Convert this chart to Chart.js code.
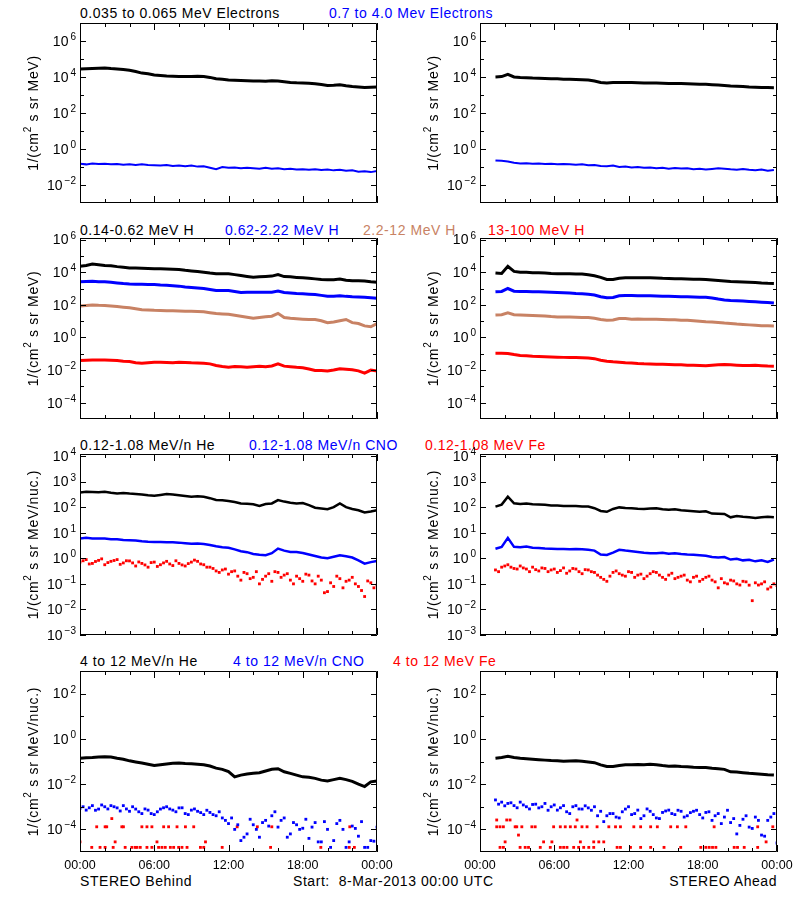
<!DOCTYPE html>
<html><head><meta charset="utf-8">
<script src="https://cdn.jsdelivr.net/npm/chart.js@4/dist/chart.umd.min.js"></script>
<style>
body{margin:0;background:#fff;width:800px;height:900px;position:relative;overflow:hidden;font-family:"Liberation Sans",Arial,sans-serif;}
canvas{position:absolute;}
.t{position:absolute;font-size:14px;line-height:14px;white-space:pre;letter-spacing:0.55px;}
</style></head><body>
<div class="t" style="left:80px;top:6px;color:#000">0.035 to 0.065 MeV Electrons</div>
<div class="t" style="left:329px;top:6px;color:#0000ff">0.7 to 4.0 Mev Electrons</div>
<div class="t" style="left:80px;top:223px;color:#000">0.14-0.62 MeV H</div>
<div class="t" style="left:225px;top:223px;color:#0000ff">0.62-2.22 MeV H</div>
<div class="t" style="left:363px;top:223px;color:rgb(200,130,100)">2.2-12 MeV H</div>
<div class="t" style="left:488px;top:223px;color:#ff0000">13-100 MeV H</div>
<div class="t" style="left:80px;top:438px;color:#000">0.12-1.08 MeV/n He</div>
<div class="t" style="left:249px;top:438px;color:#0000ff">0.12-1.08 MeV/n CNO</div>
<div class="t" style="left:425px;top:438px;color:#ff0000">0.12-1.08 MeV Fe</div>
<div class="t" style="left:80px;top:654px;color:#000">4 to 12 MeV/n He</div>
<div class="t" style="left:233px;top:654px;color:#0000ff">4 to 12 MeV/n CNO</div>
<div class="t" style="left:393px;top:654px;color:#ff0000">4 to 12 MeV Fe</div>
<div class="t" style="left:80px;top:874px;color:#000">STEREO Behind</div>
<div class="t" style="left:293px;top:874px;color:#000">Start:  8-Mar-2013 00:00 UTC</div>
<div class="t" style="right:23px;top:874px;color:#000">STEREO Ahead</div>
<script>
// ---- time bases (hours after 8-Mar-2013 00:00 UTC) ----
const TIME_B = [0,0.5,1,1.5,2,2.5,3,3.5,4,4.5,5,5.5,6,6.5,7,7.5,8,8.5,9,9.5,10,10.5,11,11.5,12,12.5,13,13.5,14,14.5,15,15.5,16,16.5,17,17.5,18,18.5,19,19.5,20,20.5,21,21.5,22,22.5,23,23.5,24];
const TIME_B2 = [0.25,0.75,1.25,1.75,2.25,2.75,3.25,3.75,4.25,4.75,5.25,5.75,6.25,6.75,7.25,7.75,8.25,8.75,9.25,9.75,10.25,10.75,11.25,11.75,12.25,12.75,13.25,13.75,14.25,14.75,15.25,15.75,16.25,16.75,17.25,17.75,18.25,18.75,19.25,19.75,20.25,20.75,21.25,21.75,22.25,22.75,23.25,23.75];
const TIME_A = [1.25,1.75,2.25,2.75,3.25,3.75,4.25,4.75,5.25,5.75,6.25,6.75,7.25,7.75,8.25,8.75,9.25,9.75,10.25,10.75,11.25,11.75,12.25,12.75,13.25,13.75,14.25,14.75,15.25,15.75,16.25,16.75,17.25,17.75,18.25,18.75,19.25,19.75,20.25,20.75,21.25,21.75,22.25,22.75,23.25,23.75];
const TIME_A2 = [1.5,2,2.5,3,3.5,4,4.5,5,5.5,6,6.5,7,7.5,8,8.5,9,9.5,10,10.5,11,11.5,12,12.5,13,13.5,14,14.5,15,15.5,16,16.5,17,17.5,18,18.5,19,19.5,20,20.5,21,21.5,22,22.5,23,23.5,24];

// ---- row 1: electrons ----
const E_LO_B = [2.8e4,2.9e4,3.0e4,3.1e4,3.2e4,2.95e4,2.8e4,2.6e4,2.35e4,2.0e4,1.65e4,1.5e4,1.3e4,1.2e4,1.12e4,1.1e4,1.07e4,1.07e4,1.07e4,1.1e4,1.07e4,9.5e3,8.1e3,7.4e3,6.8e3,6.5e3,6.3e3,6.2e3,6.0e3,6.0e3,5.9e3,6.2e3,6.0e3,5.5e3,5.0e3,4.8e3,4.7e3,4.5e3,4.2e3,3.8e3,3.4e3,3.5e3,3.7e3,3.3e3,3.0e3,2.8e3,2.6e3,2.7e3,2.75e3];
const E_HI_B = [0.15,0.14,0.155,0.145,0.15,0.14,0.145,0.135,0.14,0.13,0.14,0.13,0.125,0.12,0.13,0.115,0.12,0.11,0.12,0.105,0.11,0.09,0.075,0.1,0.09,0.095,0.085,0.09,0.085,0.08,0.09,0.08,0.085,0.075,0.08,0.072,0.075,0.07,0.075,0.068,0.072,0.065,0.07,0.062,0.066,0.055,0.058,0.052,0.06];
const E_LO_A = [1.0e4,1.05e4,1.4e4,1.0e4,9.3e3,9.1e3,8.7e3,8.5e3,8.3e3,8.1e3,7.9e3,7.6e3,7.4e3,7.2e3,7.1e3,6.8e3,6.0e3,4.9e3,4.7e3,4.9e3,5.0e3,5.0e3,4.9e3,4.8e3,4.7e3,4.7e3,4.6e3,4.5e3,4.4e3,4.3e3,4.3e3,4.2e3,4.1e3,4.0e3,3.9e3,3.7e3,3.55e3,3.4e3,3.2e3,3.1e3,2.95e3,2.75e3,2.7e3,2.6e3,2.6e3,2.55e3];
const E_HI_A = [0.23,0.22,0.2,0.17,0.155,0.16,0.15,0.155,0.145,0.15,0.14,0.145,0.14,0.135,0.14,0.125,0.13,0.115,0.11,0.12,0.1,0.105,0.095,0.1,0.09,0.095,0.085,0.09,0.08,0.088,0.082,0.085,0.075,0.08,0.072,0.078,0.085,0.08,0.074,0.07,0.078,0.07,0.066,0.072,0.062,0.068];

// ---- row 2: protons ----
const H1_B = [2.3e4,2.6e4,3.2e4,2.9e4,2.6e4,2.5e4,2.2e4,2.0e4,1.8e4,1.8e4,1.75e4,1.7e4,1.65e4,1.6e4,1.55e4,1.5e4,1.45e4,1.3e4,1.2e4,1.1e4,1.0e4,8.9e3,8.1e3,7.9e3,7.9e3,7.1e3,6.2e3,5.5e3,4.9e3,5.2e3,5.5e3,5.75e3,7.1e3,5.4e3,5.2e3,4.8e3,4.5e3,4.2e3,3.9e3,3.6e3,3.4e3,3.5e3,3.8e3,3.2e3,2.95e3,2.95e3,2.9e3,2.6e3,2.45e3];
const H2_B = [2.6e3,2.7e3,2.8e3,2.6e3,2.6e3,2.4e3,2.2e3,2.0e3,1.9e3,1.85e3,1.8e3,1.78e3,1.75e3,1.65e3,1.6e3,1.5e3,1.4e3,1.25e3,1.15e3,1.07e3,1.0e3,870,760,760,760,660,575,590,600,600,600,600,690,570,525,490,470,450,425,380,340,340,365,330,310,300,295,275,255];
const H3_B = [85,91,98,93,91,85,79,72,66,58,50,48,46,45,44,43,42,41,40,39,38,33,29,27.5,26,23,20,17.4,15,16.6,18.6,20,30,16.6,15,14,13.2,12.6,12.6,10.5,8.1,8.9,10.5,12.6,8.1,7.1,5.1,4.5,7.1];
const H4_B = [0.038,0.04,0.042,0.042,0.042,0.04,0.038,0.035,0.033,0.028,0.026,0.028,0.03,0.03,0.0295,0.028,0.03,0.0295,0.028,0.0275,0.026,0.024,0.019,0.0166,0.015,0.0166,0.0162,0.015,0.0162,0.017,0.0158,0.0178,0.024,0.0174,0.0162,0.0148,0.0138,0.0117,0.0095,0.0093,0.0087,0.01,0.012,0.0112,0.0105,0.0089,0.0065,0.01,0.0089];
const H1_A = [8.9e3,8.3e3,2.3e4,1.12e4,1.0e4,9.8e3,9.3e3,9.3e3,8.9e3,8.3e3,7.9e3,8.1e3,7.9e3,7.8e3,7.8e3,6.9e3,6.0e3,4.8e3,3.6e3,3.55e3,4.2e3,4.5e3,4.6e3,4.6e3,4.5e3,4.5e3,4.4e3,4.2e3,4.1e3,4.0e3,3.9e3,3.8e3,3.7e3,3.7e3,3.55e3,3.3e3,3.1e3,2.9e3,2.7e3,2.6e3,2.5e3,2.45e3,2.35e3,2.2e3,2.1e3,2.05e3];
const H2_A = [630,660,1000,690,660,645,630,630,615,590,575,550,525,490,470,445,400,315,270,280,355,370,370,365,365,355,345,340,330,325,315,310,300,295,290,265,225,200,185,178,170,162,155,145,138,129];
const H3_A = [24,25,32,25,24,23,22.4,21.4,20.4,19,18.2,18.2,17.8,17.4,17,16.6,15,12.6,11.5,11.7,14.5,14.5,13.2,13.5,13.2,13.2,12.9,12.6,12.3,12,11.5,11.2,10.7,10,9.3,8.9,8.3,7.6,7.1,6.6,6.3,5.9,5.5,5.2,5.2,5.1];
const H4_A = [0.107,0.107,0.105,0.089,0.079,0.076,0.071,0.068,0.065,0.063,0.062,0.06,0.059,0.058,0.056,0.055,0.05,0.04,0.035,0.032,0.03,0.028,0.0275,0.025,0.024,0.0235,0.023,0.0224,0.022,0.0214,0.021,0.02,0.0195,0.019,0.0186,0.02,0.021,0.022,0.021,0.02,0.019,0.019,0.0195,0.0186,0.0178,0.0174];

// ---- row 3: 0.12-1.08 MeV/n heavy ions ----
const HE_B = [370,400,390,380,400,365,345,355,340,330,315,295,280,300,325,310,295,275,255,265,255,225,190,185,175,160,140,135,130,112,132,140,190,165,148,140,145,120,95,89,83,100,140,100,85,76,62,68,76];
const CNO_B = [5.9,6.3,6.0,5.9,5.9,5.6,5.5,5.2,5.1,5.0,4.6,4.4,4.3,4.3,4.2,4.2,4.1,3.9,3.7,3.8,3.6,3.3,2.95,2.7,2.6,2.24,1.9,1.74,1.48,1.38,1.32,1.58,2.4,2.0,1.78,1.78,1.62,1.41,1.23,1.07,1.0,1.15,1.32,1.2,1.07,0.83,0.62,0.71,0.79];
const FE_B = [0.71,0.89,0.63,0.83,0.56,0.76,0.89,0.66,0.79,0.5,0.63,0.45,0.71,0.56,0.76,0.52,0.63,0.5,0.71,0.76,0.56,0.45,0.32,0.35,0.24,0.32,0.14,0.25,0.18,0.1,0.2,0.126,0.28,0.22,0.14,0.2,0.126,0.22,0.1,0.14,0.05,0.079,0.16,0.126,0.18,0.079,0.032,0.11,0.089];
const FE_B2 = [0.8,0.6,0.75,0.95,0.68,0.82,0.58,0.8,0.66,0.72,0.55,0.68,0.48,0.66,0.6,0.8,0.55,0.62,0.85,0.6,0.45,0.4,0.28,0.38,0.3,0.2,0.28,0.16,0.3,0.15,0.25,0.3,0.18,0.25,0.1,0.16,0.24,0.13,0.2,0.045,0.11,0.2,0.07,0.14,0.1,0.055,0.13,0.07];
const HE_A = [105,126,257,141,132,138,129,126,123,117,115,112,110,110,107,105,91,71,66,85,98,93,91,87,85,89,91,83,79,83,76,72,69,66,69,56,55,54,40,45,42,40,38,40,42,40];
const CNO_A = [2.35,2.8,6.3,2.8,2.7,2.9,2.6,2.5,2.4,2.35,2.3,2.3,2.24,2.3,2.24,2.14,2.0,1.41,1.35,1.66,2.14,2.0,1.9,1.78,1.66,1.58,1.58,1.66,1.51,1.58,1.48,1.41,1.38,1.32,1.26,1.12,1.07,1.12,0.89,0.95,0.83,0.87,0.76,0.83,0.72,0.89];
const FE_A = [0.35,0.45,0.56,0.4,0.5,0.38,0.45,0.32,0.4,0.35,0.28,0.42,0.32,0.38,0.25,0.35,0.28,0.18,0.126,0.28,0.25,0.2,0.28,0.22,0.16,0.25,0.28,0.18,0.22,0.16,0.2,0.14,0.18,0.126,0.18,0.14,0.07,0.11,0.14,0.1,0.126,0.089,0.11,0.1,0.063,0.1];
const FE_A2 = [0.3,0.5,0.45,0.38,0.42,0.3,0.36,0.42,0.3,0.38,0.33,0.26,0.4,0.3,0.36,0.3,0.22,0.15,0.2,0.32,0.22,0.3,0.18,0.24,0.2,0.3,0.22,0.15,0.26,0.18,0.22,0.12,0.2,0.15,0.2,0.12,0.16,0.1,0.13,0.09,0.12,0.022,0.09,0.12,0.075,0.085];

// ---- row 4: 4-12 MeV/n heavy ions ----
const HE4_B = [0.14,0.148,0.15,0.158,0.162,0.158,0.14,0.126,0.107,0.095,0.085,0.076,0.066,0.072,0.078,0.083,0.085,0.081,0.079,0.076,0.072,0.063,0.051,0.045,0.036,0.021,0.025,0.028,0.03,0.032,0.038,0.045,0.048,0.035,0.03,0.025,0.021,0.02,0.018,0.015,0.0138,0.0158,0.018,0.0158,0.0132,0.01,0.0078,0.0126,0.0138];
const CNO4_B = [8.5e-4,7.1e-4,1.12e-3,7.9e-4,1.0e-3,1.12e-3,8.9e-4,1.12e-3,6.3e-4,7.9e-4,5.0e-4,7.1e-4,4.5e-4,7.9e-4,1.0e-3,7.1e-4,8.9e-4,5.0e-4,7.1e-4,6.3e-4,4.5e-4,5.6e-4,4.0e-4,3.2e-4,1.8e-4,1.0e-4,3.2e-5,6.3e-5,1.6e-4,4.5e-5,2.5e-4,4.0e-4,1.26e-4,3.2e-4,6.3e-5,1.6e-4,1.12e-4,4.0e-5,2.0e-4,2.8e-5,1.0e-4,3.2e-5,2.5e-4,1.6e-5,1.4e-4,5.0e-5,1.6e-5,3.2e-5,1.26e-4];
const CNO4_B2 = [1.0e-3,9e-4,7e-4,1.2e-3,8e-4,1.0e-3,6.5e-4,8e-4,1.0e-3,6e-4,8e-4,5e-4,6e-4,9e-4,8e-4,6e-4,9e-4,4.5e-4,8e-4,5.5e-4,7e-4,4.5e-4,6e-4,2.5e-4,3.2e-4,1.6e-4,4.5e-5,2.8e-4,1.0e-4,2.0e-4,1.4e-4,6e-4,2.5e-4,4.5e-5,2.0e-4,1.0e-4,2.8e-4,1.26e-4,2.8e-5,2.2e-4,1.6e-5,1.8e-4,1.0e-4,2.8e-5,1.1e-4,2.2e-4,1.6e-5,3.0e-5];
const FE4_B_T = [1.35,2.03,2.16,3.38,3.51,5.0,5.41,5.81,6.76,7.16,7.84,8.52,9.19,12.7,14.33,15.5,21.8,2.57,0.95,1.62,2.03,2.68,3.65,4.19,4.46,4.6,4.87,5.41,5.81,6.35,6.62,6.89,7.3,7.57,7.97,8.24,8.65,9.73,10.0,11.49,15.4,19.46,21.76,22.17,0.0,2.84,6.22,10.14];
const FE4_B_V = [1.3e-4,1.3e-4,1.3e-4,1.3e-4,1.3e-4,1.3e-4,1.3e-4,1.3e-4,1.3e-4,1.3e-4,1.3e-4,1.3e-4,1.3e-4,1.3e-4,1.3e-4,1.3e-4,1.3e-4,3.0e-4,1.6e-5,1.6e-5,1.6e-5,1.6e-5,1.6e-5,1.6e-5,1.6e-5,1.6e-5,1.6e-5,1.6e-5,1.6e-5,1.6e-5,1.6e-5,1.6e-5,1.6e-5,1.6e-5,1.6e-5,1.6e-5,1.6e-5,1.6e-5,1.6e-5,1.6e-5,1.6e-5,1.6e-5,1.6e-5,1.6e-5,2.8e-5,2.8e-5,2.8e-5,2.8e-5];
const HE4_A = [0.14,0.15,0.17,0.15,0.138,0.132,0.126,0.12,0.115,0.11,0.107,0.102,0.105,0.107,0.102,0.095,0.089,0.071,0.06,0.06,0.066,0.072,0.072,0.074,0.072,0.076,0.072,0.066,0.062,0.063,0.06,0.059,0.056,0.054,0.054,0.05,0.048,0.045,0.035,0.034,0.032,0.03,0.029,0.0275,0.026,0.025];
const CNO4_A = [2.0e-3,1.6e-3,1.4e-3,1.12e-3,1.6e-3,1.0e-3,1.26e-3,8.9e-4,1.4e-3,1.0e-3,7.1e-4,1.12e-3,5.0e-4,1.12e-3,7.9e-4,8.9e-4,1.0e-3,6.3e-4,4.0e-4,5.0e-4,3.2e-4,7.9e-4,4.5e-4,7.1e-4,4.0e-4,6.3e-4,3.2e-4,5.6e-4,7.1e-4,4.5e-4,6.3e-4,4.0e-4,6.3e-4,4.5e-4,5.6e-4,2.5e-4,5.0e-4,3.5e-4,2.0e-4,6.3e-5,2.8e-4,1.26e-4,3.5e-4,5.6e-5,2.5e-4,5.0e-4];
const CNO4_A2 = [1.3e-3,1.1e-3,1.5e-3,9e-4,1.2e-3,8e-4,1.3e-3,1.0e-3,7e-4,1.2e-3,9e-4,6e-4,1.0e-3,8e-4,1.1e-3,7e-4,4e-4,2.2e-4,5e-4,3.5e-4,6e-4,1.0e-3,5e-4,3e-4,8e-4,4.5e-4,3e-4,6.5e-4,5e-4,7e-4,3.5e-4,5.5e-4,7e-4,3.2e-4,6e-4,4e-4,1.8e-4,7e-4,3e-4,1.5e-4,4e-4,1.1e-4,2.5e-4,5e-5,3.5e-4,2.5e-5];
const FE4_A_T = [1.35,1.62,1.89,2.84,2.97,3.38,4.19,4.46,5.95,6.49,6.89,7.3,7.7,8.24,8.65,9.46,10.41,10.95,11.35,12.43,12.98,13.79,14.33,15.41,15.95,16.63,18.92,22.44,23.66,1.35,2.16,2.43,7.84,1.62,1.89,3.24,3.65,3.92,4.87,5.68,6.49,6.76,7.03,7.57,7.97,8.38,8.79,9.19,11.08,11.35,12.16,12.98,13.79,14.87,16.22,17.84,18.25,18.52,18.79,19.06,20.54,20.81,21.35,22.44,2.03,5.14,5.81,8.11,9.19,9.6,10.0,23.12,3.11];
const FE4_A_V = [1.3e-4,1.3e-4,1.3e-4,1.3e-4,1.3e-4,1.3e-4,1.3e-4,1.3e-4,1.3e-4,1.3e-4,1.3e-4,1.3e-4,1.3e-4,1.3e-4,1.3e-4,1.3e-4,1.3e-4,1.3e-4,1.3e-4,1.3e-4,1.3e-4,1.3e-4,1.3e-4,1.3e-4,1.3e-4,1.3e-4,1.3e-4,1.3e-4,1.3e-4,2.6e-4,2.6e-4,2.6e-4,2.6e-4,1.6e-5,1.6e-5,1.6e-5,1.6e-5,1.6e-5,1.6e-5,1.6e-5,1.6e-5,1.6e-5,1.6e-5,1.6e-5,1.6e-5,1.6e-5,1.6e-5,1.6e-5,1.6e-5,1.6e-5,1.6e-5,1.6e-5,1.6e-5,1.6e-5,1.6e-5,1.6e-5,1.6e-5,1.6e-5,1.6e-5,1.6e-5,1.6e-5,1.6e-5,1.6e-5,1.6e-5,2.8e-5,2.8e-5,2.8e-5,2.8e-5,2.8e-5,2.8e-5,2.8e-5,2.8e-5,5.6e-5];

// ---- axis ticks / labels ----
const X_TICKS = [0,2,4,6,8,10,12,14,16,18,20,22,24];
const X_LABEL_HOURS = [0,6,12,18,24];
const X_LABELS = ['00:00','06:00','12:00','18:00','00:00'];
const Y1_MAJOR = [-2,0,2,4,6], Y1_MINOR = [-1,1,3,5];
const Y2_MAJOR = [-4,-2,0,2,4,6], Y2_MINOR = [-3,-1,1,3,5];
const Y3_MAJOR = [-3,-2,-1,0,1,2,3,4], Y3_MINOR = [];
const Y4_MAJOR = [-4,-2,0,2], Y4_MINOR = [-3,-1,1];
const YTITLE_A = ['1/(cm', '2', ' s sr MeV)'];
const YTITLE_B = ['1/(cm', '2', ' s sr MeV/nuc.)'];

const BLACK='#000000', BLUE='#0000ff', TAN='rgb(200,130,100)', RED='#ff0000';

const ROWS = [
  {top:23, bottom:203, min:1e-3, max:1e7, major:Y1_MAJOR, minor:Y1_MINOR, title:YTITLE_A},
  {top:238, bottom:419, min:1e-5, max:1.25e6, major:Y2_MAJOR, minor:Y2_MINOR, title:YTITLE_A},
  {top:454, bottom:635, min:1e-3, max:1.2e4, major:Y3_MAJOR, minor:Y3_MINOR, title:YTITLE_B},
  {top:671, bottom:852, min:1e-5, max:1e3, major:Y4_MAJOR, minor:Y4_MINOR, title:YTITLE_B}
];

const PANELS = [
  {row:0, side:0, series:[{t:TIME_B,v:E_LO_B,c:BLACK,w:3},{t:TIME_B,v:E_HI_B,c:BLUE,w:2}]},
  {row:0, side:1, series:[{t:TIME_A,v:E_LO_A,c:BLACK,w:3},{t:TIME_A,v:E_HI_A,c:BLUE,w:2}]},
  {row:1, side:0, series:[{t:TIME_B,v:H1_B,c:BLACK,w:3},{t:TIME_B,v:H2_B,c:BLUE,w:3},{t:TIME_B,v:H3_B,c:TAN,w:3},{t:TIME_B,v:H4_B,c:RED,w:3}]},
  {row:1, side:1, series:[{t:TIME_A,v:H1_A,c:BLACK,w:3},{t:TIME_A,v:H2_A,c:BLUE,w:3},{t:TIME_A,v:H3_A,c:TAN,w:3},{t:TIME_A,v:H4_A,c:RED,w:3}]},
  {row:2, side:0, series:[{t:TIME_B,v:HE_B,c:BLACK,w:2.5},{t:TIME_B,v:CNO_B,c:BLUE,w:2.5},{t:TIME_B,v:FE_B,c:RED,dots:true},{t:TIME_B2,v:FE_B2,c:RED,dots:true}]},
  {row:2, side:1, series:[{t:TIME_A,v:HE_A,c:BLACK,w:2.5},{t:TIME_A,v:CNO_A,c:BLUE,w:2.5},{t:TIME_A,v:FE_A,c:RED,dots:true},{t:TIME_A2,v:FE_A2,c:RED,dots:true}]},
  {row:3, side:0, series:[{t:TIME_B,v:HE4_B,c:BLACK,w:3},{t:TIME_B,v:CNO4_B,c:BLUE,dots:true},{t:TIME_B2,v:CNO4_B2,c:BLUE,dots:true},{t:FE4_B_T,v:FE4_B_V,c:RED,dots:true}]},
  {row:3, side:1, series:[{t:TIME_A,v:HE4_A,c:BLACK,w:3},{t:TIME_A,v:CNO4_A,c:BLUE,dots:true},{t:TIME_A2,v:CNO4_A2,c:BLUE,dots:true},{t:FE4_A_T,v:FE4_A_V,c:RED,dots:true}]}
];

const idlAxes = {
  id:'idlAxes',
  afterDatasetsDraw(chart){
    const o = chart.options.plugins.idlAxes;
    const ctx = chart.ctx, a = chart.chartArea, xs = chart.scales.x, ys = chart.scales.y;
    const L = Math.round(a.left), R = Math.round(a.right), T = Math.round(a.top), B = Math.round(a.bottom);
    ctx.save();
    ctx.strokeStyle = '#000'; ctx.lineWidth = 1;
    ctx.beginPath();
    ctx.rect(L+0.5, T+0.5, R-L-1, B-T-1);
    X_TICKS.forEach(h => {
      const px = Math.round(xs.getPixelForValue(h)) + 0.5;
      const len = (h % 6 === 0) ? 7 : 4;
      ctx.moveTo(px, B); ctx.lineTo(px, B - len);
      ctx.moveTo(px, T); ctx.lineTo(px, T + len);
    });
    const yt = (e, len) => {
      const py = Math.round(ys.getPixelForValue(Math.pow(10, e))) + 0.5;
      ctx.moveTo(L, py); ctx.lineTo(L + len, py);
      ctx.moveTo(R, py); ctx.lineTo(R - len, py);
    };
    o.major.forEach(e => yt(e, 6));
    o.minor.forEach(e => yt(e, 4));
    ctx.stroke();
    // y tick labels 10^e
    ctx.fillStyle = '#000';
    o.major.forEach(e => {
      const py = ys.getPixelForValue(Math.pow(10, e));
      const ex = (e < 0 ? '\u2212' : '') + Math.abs(e);
      ctx.font = '10px "Liberation Sans"';
      ctx.textAlign = 'right'; ctx.textBaseline = 'alphabetic';
      const ew = ctx.measureText(ex).width;
      ctx.fillText(ex, L - 4, py - 1);
      ctx.font = '14px "Liberation Sans"';
      ctx.textBaseline = 'middle';
      ctx.fillText('10', L - 6 - ew, py + 1);
    });
    // y title with superscript
    ctx.save();
    ctx.translate(34, (T + B) / 2);
    ctx.rotate(-Math.PI / 2);
    ctx.letterSpacing = '0.7px';
    ctx.textAlign = 'left'; ctx.textBaseline = 'middle';
    const big = '14px "Liberation Sans"', small = '10px "Liberation Sans"';
    ctx.font = big; const w0 = ctx.measureText(o.title[0]).width;
    ctx.font = small; const w1 = ctx.measureText(o.title[1]).width;
    ctx.font = big; const w2 = ctx.measureText(o.title[2]).width;
    let x0 = -(w0 + w1 + w2) / 2;
    ctx.font = big; ctx.fillText(o.title[0], x0, 0); x0 += w0;
    ctx.font = small; ctx.fillText(o.title[1], x0, -6); x0 += w1;
    ctx.font = big; ctx.fillText(o.title[2], x0, 0);
    ctx.restore();
    // x labels
    if (o.xlabels) {
      ctx.font = '12.5px "Liberation Sans"';
      ctx.textAlign = 'center'; ctx.textBaseline = 'middle';
      X_LABEL_HOURS.forEach((h, i) => {
        ctx.fillText(X_LABELS[i], xs.getPixelForValue(h), B + 14);
      });
    }
    ctx.restore();
  }
};

function pts(t, v){ return t.map((h, i) => ({x:h, y:v[i]})); }

PANELS.forEach(p => {
  const R = ROWS[p.row];
  const boxH = R.bottom - R.top;
  const padTop = 16, padBottom = (p.row === 3) ? 30 : 12;
  const W = 400, H = boxH + padTop + padBottom;
  const cv = document.createElement('canvas');
  cv.width = W; cv.height = H;
  cv.style.left = (p.side * 400) + 'px';
  cv.style.top = (R.top - padTop) + 'px';
  cv.style.width = W + 'px'; cv.style.height = H + 'px';
  document.body.appendChild(cv);
  const datasets = p.series.map(s => s.dots ? {
      data: pts(s.t, s.v), showLine:false, pointStyle:'rect', pointRadius:2,
      pointBackgroundColor:s.c, pointBorderWidth:0, borderColor:s.c
    } : {
      data: pts(s.t, s.v), showLine:true, borderColor:s.c, borderWidth:s.w,
      pointRadius:0, tension:0, fill:false
    });
  new Chart(cv, {
    type:'scatter',
    data:{datasets},
    options:{
      responsive:false, animation:false, devicePixelRatio:1,
      layout:{padding:{left:80, right:23, top:padTop, bottom:padBottom}},
      scales:{
        x:{type:'linear', min:0, max:24, display:false},
        y:{type:'logarithmic', min:R.min, max:R.max, display:false}
      },
      plugins:{legend:{display:false}, tooltip:{enabled:false},
        idlAxes:{major:R.major, minor:R.minor, title:R.title, xlabels:p.row === 3}}
    },
    plugins:[idlAxes]
  });
});
</script>
</body></html>
